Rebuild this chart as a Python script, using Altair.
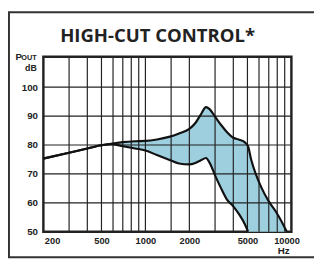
import altair as alt
import pandas as pd

# ---- text content ----
title_text = "HIGH-CUT CONTROL*"
unit_p = "P"
unit_out = "OUT"
unit_db = "dB"
unit_hz = "Hz"

# ---- axes ----
x_ticks = [200, 500, 1000, 2000, 5000, 10000]
y_ticks = [50, 60, 70, 80, 90, 100]
x_grid = [300, 400, 500, 600, 700, 800, 900, 1000, 1500, 2000, 3000, 4000,
          5000, 6000, 7000, 8000, 9000]
y_grid = [60, 70, 80, 90, 100]

# ---- curves (Hz, dB) ----
upper_freq = [200, 300, 400, 500, 580, 700, 850, 1000, 1200, 1450, 1700, 2000,
              2200, 2400, 2600, 2750, 3000, 3300, 3600, 4000, 4400, 4800, 5050,
              5300, 5700, 6200, 7000, 7800, 8600, 9300]
upper_db = [75.3, 77.3, 78.8, 79.9, 80.4, 81.0, 81.3, 81.4, 81.9, 82.8, 84.0, 85.6,
            87.6, 90.6, 93.1, 92.4, 89.8, 86.9, 84.6, 82.5, 81.8, 80.9, 79.5,
            75.0, 70.0, 65.5, 60.5, 57.1, 53.4, 50.0]
lower_freq = [200, 300, 400, 500, 580, 700, 850, 1000, 1200, 1450, 1700, 2000,
              2200, 2400, 2600, 2750, 3000, 3300, 3600, 4000, 4400, 4800, 5050]
lower_db = [75.3, 77.3, 78.8, 79.9, 80.3, 79.6, 78.8, 78.1, 76.5, 74.9, 73.6, 73.3,
            73.8, 74.7, 75.5, 73.9, 69.5, 65.0, 61.3, 58.8, 55.9, 52.6, 50.0]

FLOOR = 50
lower_map = dict(zip(lower_freq, lower_db))
area_df = pd.DataFrame({
    "f": upper_freq,
    "hi": upper_db,
    "lo": [lower_map.get(f, FLOOR) for f in upper_freq],
})
upper_df = pd.DataFrame({"f": upper_freq, "hi": upper_db})
lower_df = pd.DataFrame({"f": lower_freq, "hi": lower_db})
xg_df = pd.DataFrame({"f": x_grid})
yg_df = pd.DataFrame({"hi": y_grid})
one = pd.DataFrame({"k": [0]})

W, H = 254.5, 179.6
LABEL_FONT = "Liberation Sans"
INK = "#222222"

xs = alt.Scale(type="log", domain=[200, 10000])
ys = alt.Scale(domain=[50, 110.5])

x_axis = alt.Axis(values=x_ticks, format="d", title=None, grid=False, ticks=False,
                  domain=False, labelFlush=False, labelOverlap=False, labelBound=False,
                  labelAlign=alt.expr("datum.value == 200 ? 'left' : 'center'"),
                  labelOffset=alt.expr("datum.value == 10000 ? -5 : (datum.value == 200 ? 1 : 0)"),
                  labelPadding=4, labelFont=LABEL_FONT, labelFontSize=9.5,
                  labelFontWeight="bold", labelColor=INK)
y_axis = alt.Axis(values=y_ticks, title=None, grid=False, ticks=False, domain=False,
                  labelPadding=6, labelFont=LABEL_FONT, labelFontSize=10,
                  labelFontWeight="bold", labelColor=INK, labelOverlap=False,
                  labelBound=False, labelFlush=False)

X = alt.X("f:Q", scale=xs, axis=x_axis)
Y = alt.Y("hi:Q", scale=ys, axis=y_axis)

area = alt.Chart(area_df).mark_area(color="#9dcfdf", interpolate="monotone", opacity=1).encode(
    x=X, y=Y, y2="lo:Q")

vgrid = alt.Chart(xg_df).mark_rule(color=INK, strokeWidth=1.2).encode(x=X)
hgrid = alt.Chart(yg_df).mark_rule(color=INK, strokeWidth=1.2).encode(y=Y)

up_line = alt.Chart(upper_df).mark_line(color="#111111", strokeWidth=2.2,
                                        interpolate="monotone").encode(x=X, y=Y)
lo_line = alt.Chart(lower_df).mark_line(color="#111111", strokeWidth=2.2,
                                        interpolate="monotone").encode(x=X, y=Y)

def txt(s, x, y, size, align, font=LABEL_FONT, weight="bold"):
    return alt.Chart(one).mark_text(text=s, align=align, baseline="alphabetic",
                                    font=font, fontSize=size, fontWeight=weight,
                                    color=INK).encode(x=alt.value(x), y=alt.value(y))

title = txt(title_text, 117.2, -14.7, 19, "center", font="Open Sans")
t_p = txt(unit_p, -22.0, 3.5, 10, "right")
t_out = txt(unit_out, -6.8, 3.5, 7.5, "right")
t_db = txt(unit_db, -6.8, 14.3, 9, "right")
t_hz = txt(unit_hz, 252.7, 202.3, 10, "right")

frame = alt.Chart(one).mark_rect(fill="transparent", stroke="#333333", strokeWidth=2).encode(
    x=alt.value(-35.3), x2=alt.value(281), y=alt.value(-45.7), y2=alt.value(205.8))

chart = alt.layer(area, vgrid, hgrid, up_line, lo_line, title, t_p, t_out, t_db, t_hz, frame).properties(
    width=W, height=H,
    autosize=alt.AutoSizeParams(type="none"),
    padding={"left": 36.3, "top": 46.7, "right": 23.2, "bottom": 27.7},
    background="white",
).configure_view(stroke=INK, strokeWidth=2.5)

chart.save("out.html", embed_options={"renderer": "svg", "actions": False})
